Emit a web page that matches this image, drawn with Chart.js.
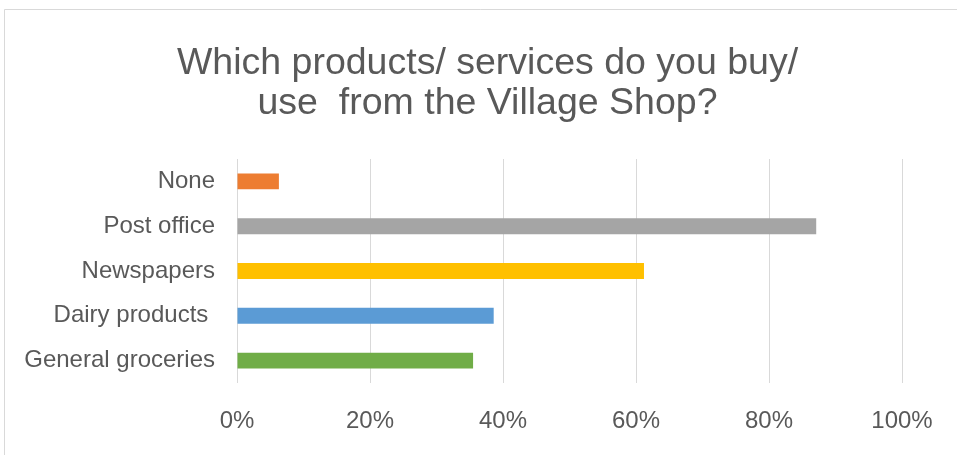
<!DOCTYPE html>
<html>
<head>
<meta charset="utf-8">
<script src="https://cdn.jsdelivr.net/npm/chart.js@4/dist/chart.umd.min.js"></script>
<style>
html,body{margin:0;padding:0;background:#fff;}
#wrap{position:relative;width:957px;height:455px;}
</style>
</head>
<body>
<div id="wrap"><canvas id="c" width="957" height="455"></canvas></div>
<script>
const titleLines = ["Which products/ services do you buy/", "use  from the Village Shop?"];
const categories = ["None", "Post office", "Newspapers", "Dairy products ", "General groceries"];
const values = [0.063, 0.871, 0.612, 0.386, 0.355];
const barColors = ["#ED7D31", "#A5A5A5", "#FFC000", "#5B9BD5", "#70AD47"];
const xTicks = [0, 0.2, 0.4, 0.6, 0.8, 1.0];

const framePlugin = {
  id: 'frame',
  beforeDraw(chart) {
    const ctx = chart.ctx;
    ctx.save();
    ctx.fillStyle = '#fff';
    ctx.fillRect(0, 0, chart.width, chart.height);
    ctx.strokeStyle = '#d9d9d9';
    ctx.lineWidth = 1;
    ctx.beginPath();
    ctx.moveTo(4.5, chart.height);
    ctx.lineTo(4.5, 9.5);
    ctx.lineTo(chart.width, 9.5);
    ctx.stroke();
    ctx.restore();
  }
};

new Chart(document.getElementById('c'), {
  type: 'bar',
  data: {
    labels: categories,
    datasets: [{
      data: values,
      backgroundColor: barColors,
      barPercentage: 0.355,
      categoryPercentage: 1.0
    }]
  },
  options: {
    indexAxis: 'y',
    responsive: false,
    animation: false,
    layout: { padding: { left: 18, right: 0, top: 43, bottom: 21 } },
    plugins: {
      legend: { display: false },
      tooltip: { enabled: false },
      title: {
        display: true,
        text: titleLines,
        color: '#595959',
        font: { family: 'Liberation Sans', size: 37.5, weight: 'normal', lineHeight: 1.08 },
        padding: { top: 0, bottom: 35 }
      }
    },
    scales: {
      x: {
        min: 0, max: 1,
        afterBuildTicks(scale) { scale.ticks = xTicks.map(v => ({ value: v })); },
        afterFit(scale) { scale.height = 51; scale.paddingRight = 55; },
        ticks: {
          callback: v => Math.round(v * 100) + '%',
          color: '#595959',
          font: { family: 'Liberation Sans', size: 24 },
          padding: 24,
          maxRotation: 0
        },
        grid: { color: '#d9d9d9', drawTicks: false, lineWidth: 1 },
        border: { display: false }
      },
      y: {
        afterFit(scale) { scale.width = 219; },
        ticks: {
          color: '#595959',
          font: { family: 'Liberation Sans', size: 24 },
          padding: 22
        },
        grid: { display: false, drawTicks: false },
        border: { display: false }
      }
    }
  },
  plugins: [framePlugin]
});
</script>
</body>
</html>
